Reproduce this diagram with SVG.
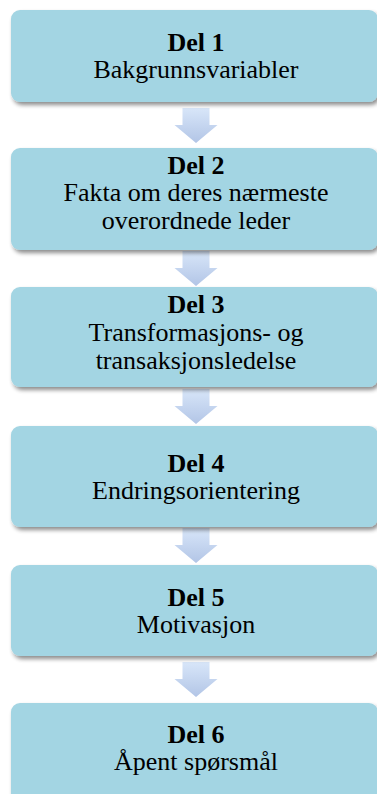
<svg xmlns="http://www.w3.org/2000/svg" width="377" height="794" viewBox="0 0 377 794">
  <defs>
    <filter id="shadow" x="-5%" y="-10%" width="115%" height="130%">
      <feGaussianBlur in="SourceAlpha" stdDeviation="2"/>
      <feOffset dx="2" dy="3" result="b"/>
      <feComponentTransfer><feFuncA type="linear" slope="0.45"/></feComponentTransfer>
      <feMerge><feMergeNode/><feMergeNode in="SourceGraphic"/></feMerge>
    </filter>
    <linearGradient id="arrowFill" x1="0" y1="0" x2="0" y2="1">
      <stop offset="0" stop-color="#d8e6f9"/>
      <stop offset="1" stop-color="#b2c5e6"/>
    </linearGradient>
    <!-- down arrow: 27px shaft, 43px head, origin at top centre -->
    <path id="arrow" d="M-13.5,0 H13.5 V17 H21.5 L0,35 L-21.5,17 H-13.5 Z"/>
  </defs>
  <style>
    .box { fill: #a3d5e3; filter: url(#shadow); }
    .t { font-family: "Liberation Serif", "Times New Roman", serif; font-size: 26px; fill: #000; text-anchor: middle; }
    .h { font-weight: bold; }
    .arr { fill: url(#arrowFill); }
  </style>
  <rect width="377" height="794" fill="#ffffff"/>

  <g id="connectors">
    <use href="#arrow" class="arr" x="196" y="108"/>
    <use href="#arrow" class="arr" x="196" y="251"/>
    <use href="#arrow" class="arr" x="196" y="389"/>
    <use href="#arrow" class="arr" x="196" y="528"/>
    <use href="#arrow" class="arr" x="196" y="662"/>
  </g>

  <g id="del1">
    <rect class="box" x="11" y="10" width="367" height="92" rx="9"/>
    <text class="t h" x="196" y="51">Del 1</text>
    <text class="t" x="196" y="78">Bakgrunnsvariabler</text>
  </g>
  <g id="del2">
    <rect class="box" x="11" y="148" width="367" height="102" rx="9"/>
    <text class="t h" x="196" y="174">Del 2</text>
    <text class="t" x="196" y="201">Fakta om deres nærmeste</text>
    <text class="t" x="196" y="229">overordnede leder</text>
  </g>
  <g id="del3">
    <rect class="box" x="11" y="287" width="367" height="100" rx="9"/>
    <text class="t h" x="196" y="313">Del 3</text>
    <text class="t" x="196" y="341">Transformasjons- og</text>
    <text class="t" x="196" y="369">transaksjonsledelse</text>
  </g>
  <g id="del4">
    <rect class="box" x="11" y="426" width="367" height="101" rx="9"/>
    <text class="t h" x="196" y="472">Del 4</text>
    <text class="t" x="196" y="499">Endringsorientering</text>
  </g>
  <g id="del5">
    <rect class="box" x="11" y="565" width="367" height="91" rx="9"/>
    <text class="t h" x="196" y="606">Del 5</text>
    <text class="t" x="196" y="633">Motivasjon</text>
  </g>
  <g id="del6">
    <rect class="box" x="11" y="703" width="367" height="100" rx="9"/>
    <text class="t h" x="196" y="743">Del 6</text>
    <text class="t" x="196" y="770">Åpent spørsmål</text>
  </g>
</svg>
